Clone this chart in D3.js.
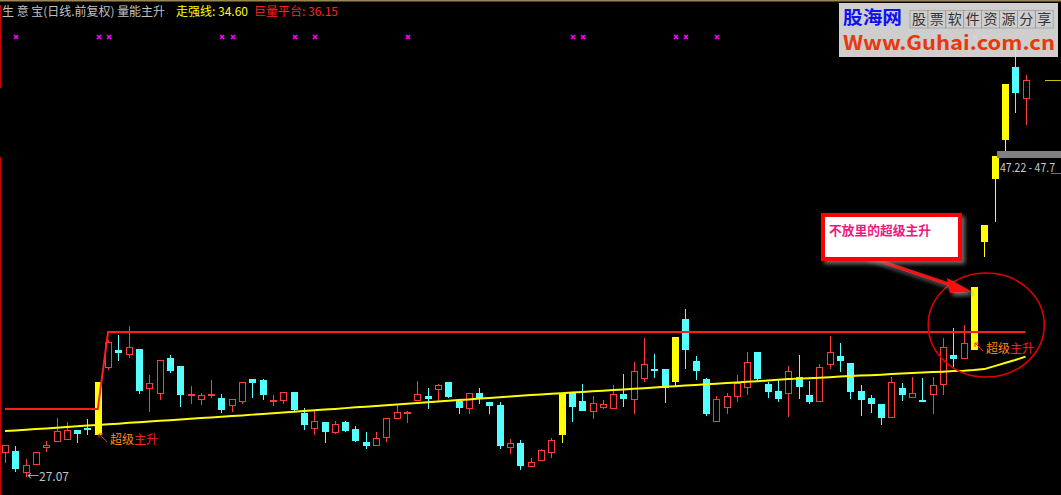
<!DOCTYPE html>
<html><head><meta charset="utf-8">
<script src="https://cdn.jsdelivr.net/npm/d3@7"></script>
<style>
html,body{margin:0;padding:0;background:#000;overflow:hidden}
svg{display:block}
text{font-family:"Noto Sans CJK SC","Noto Sans",sans-serif}
</style></head><body>
<svg id="c" width="1061" height="495"></svg>
<script>
// ---- data (price units) ----
const opens = [28.58,28.64,27.32,27.82,28.89,29.27,29.40,29.97,30.09,29.71,
33.94,35.01,34.76,35.08,32.62,32.30,34.51,34.00,32.17,31.92,
32.17,31.99,31.54,31.80,33.18,33.12,31.80,31.86,32.36,31.04,
30.09,30.47,29.84,30.47,30.03,29.21,29.02,29.52,30.72,31.04,
31.86,32.11,32.55,33.00,31.80,31.35,32.30,31.73,31.54,28.89,
29.15,27.69,28.07,28.58,29.71,32.30,31.80,31.17,31.42,31.35,
32.24,31.92,33.25,33.81,33.81,33.06,36.97,34.32,33.18,30.53,
31.42,32.11,32.68,34.89,32.87,32.43,32.30,33.31,32.17,31.80,
34.13,34.64,34.19,32.43,31.99,31.61,30.79,32.62,32.05,31.86,
32.24,32.87,34.70,34.51,35.08,41.89,45.87,48.33,52.87,50.92];
const highs = [29.02,28.96,28.14,28.58,29.27,30.72,30.47,29.97,30.66,33.00,
35.65,35.96,36.53,35.08,33.44,34.38,34.70,34.00,32.74,32.30,
33.12,32.24,31.92,33.00,33.18,33.18,32.17,32.36,32.36,31.35,
31.23,30.47,30.53,30.53,30.22,29.84,29.84,30.72,31.61,31.17,
33.06,32.62,32.87,33.00,31.80,32.30,32.62,31.73,31.73,29.40,
29.34,28.20,28.77,29.46,32.30,32.30,32.87,32.11,31.86,32.81,
33.50,34.26,35.77,34.76,33.81,35.83,37.60,34.64,33.25,32.11,
32.30,33.44,34.89,34.89,33.00,33.12,34.00,34.70,33.06,34.13,
35.90,35.46,34.19,32.81,32.17,31.61,33.31,32.93,33.31,33.25,
33.31,35.77,36.40,36.59,38.99,42.90,47.22,51.80,54.58,52.37];
const lows = [27.95,27.38,27.07,27.82,28.64,29.27,29.40,29.21,29.71,29.71,
33.81,34.38,34.57,32.30,31.17,31.92,33.63,31.48,31.67,31.61,
32.05,31.10,31.17,31.67,32.05,31.92,31.54,31.67,31.23,30.03,
29.71,29.21,29.78,29.90,29.27,28.83,29.02,29.27,30.72,30.47,
31.86,31.35,31.86,32.05,31.04,31.04,31.67,31.04,28.83,28.52,
27.51,27.69,28.07,28.26,29.21,30.53,31.23,30.72,31.35,31.35,
31.48,31.04,33.06,33.31,31.73,32.74,33.88,33.18,30.91,30.53,
31.04,31.80,32.24,33.06,32.05,31.80,30.85,31.99,31.67,31.80,
33.88,33.69,31.99,30.91,31.10,30.34,30.79,31.86,32.05,31.80,
31.04,32.24,34.00,34.51,35.08,40.95,43.15,47.63,50.03,49.28];
const closes = [29.02,27.57,27.76,28.58,29.02,29.90,29.97,29.78,30.03,33.00,
35.52,34.89,35.20,32.49,32.93,34.38,33.75,32.24,32.24,32.17,
32.24,31.29,31.92,33.00,33.00,32.24,31.86,32.36,31.29,30.34,
30.53,29.90,30.34,29.97,29.34,29.02,29.46,30.72,31.10,31.10,
32.24,31.99,32.81,32.11,31.42,32.30,31.99,31.54,29.02,29.15,
27.76,27.95,28.70,29.34,32.30,31.48,31.23,31.67,31.61,32.24,
31.99,33.69,34.13,33.75,32.68,35.83,35.08,33.75,31.04,31.92,
32.11,32.93,34.26,33.25,32.43,31.99,33.69,32.74,31.80,33.94,
34.89,34.38,32.43,31.92,31.67,30.79,33.00,32.24,32.30,31.80,
32.81,35.20,34.51,35.46,38.99,42.90,47.22,51.80,51.29,52.05];
const superRise = [9,54,65,94,95,96,97];          // yellow candles
const strongLine = [29.90,29.94,29.99,30.03,30.07,30.12,30.16,30.20,30.25,30.29,
30.33,30.37,30.42,30.46,30.50,30.55,30.59,30.63,30.68,30.72,
30.76,30.81,30.85,30.89,30.94,30.98,31.03,31.07,31.12,31.17,
31.21,31.26,31.30,31.35,31.40,31.44,31.49,31.53,31.58,31.63,
31.67,31.72,31.76,31.81,31.86,31.90,31.95,31.99,32.04,32.08,
32.13,32.17,32.21,32.25,32.29,32.33,32.37,32.41,32.45,32.49,
32.53,32.57,32.61,32.65,32.69,32.73,32.77,32.81,32.85,32.89,
32.93,32.97,33.01,33.05,33.09,33.14,33.18,33.21,33.24,33.27,
33.30,33.34,33.37,33.40,33.43,33.46,33.50,33.53,33.56,33.59,
33.62,33.65,33.69,33.71,33.75,33.81,34.00,34.19,34.38,34.60];
const platformLine = [31.29,31.29,31.29,31.29,31.29,31.29,31.29,31.29,31.29,31.29]
  .concat(new Array(90).fill(36.15));
const markIdx = [1,9,10,21,22,28,30,39,55,56,65,66,69,94,95];
const labelIdx = [9,94];
const labelPrice = [29.71,35.46];
const header = ["生 意 宝(日线.前复权) 量能主升","走强线: 34.60","巨量平台: 36.15"];
const lowText = "←27.07";
const rangeText = "47.22 - 47.7";
const calloutText = "不放里的超级主升";

// ---- drawing ----
const svg = d3.select("#c");
const N = opens.length;
const x = d3.scaleLinear().domain([0, N-1]).range([5, 1025.5]);
const y = d3.scaleLinear().domain([27.07, 36.15]).range([476, 332]);
const px = i => Math.round(x(i));
const py = v => Math.round(y(v));
const defs = svg.append("defs");

svg.append("rect").attr("width",1061).attr("height",495).attr("fill","#000");
svg.append("rect").attr("x",0).attr("y",0).attr("width",1061).attr("height",1.5).attr("fill","#9a8650");
svg.append("line").attr("x1",0.75).attr("x2",0.75).attr("y1",5).attr("y2",88).attr("stroke","#c80000").attr("stroke-width",1.5);
svg.append("line").attr("x1",0.75).attr("x2",0.75).attr("y1",157).attr("y2",495).attr("stroke","#c80000").attr("stroke-width",1.5);

// header
const hd = svg.append("g").attr("font-size",12);
hd.append("text").attr("x",2).attr("y",16).attr("fill","#c0c0c0").attr("textLength",163).attr("lengthAdjust","spacingAndGlyphs").text(header[0]);
hd.append("text").attr("x",176).attr("y",16).attr("fill","#ffff00").attr("textLength",72).attr("lengthAdjust","spacingAndGlyphs").text(header[1]);
hd.append("text").attr("x",254).attr("y",16).attr("fill","#ff2020").attr("textLength",84).attr("lengthAdjust","spacingAndGlyphs").text(header[2]);

// marks
svg.append("g").selectAll("path").data(markIdx).join("path")
  .attr("d", i => { const cx = Math.round(x(i))+1, cy = 37; return `M${cx-2},${cy-2}L${cx+2},${cy+2}M${cx+2},${cy-2}L${cx-2},${cy+2}`; })
  .attr("stroke","#ff00ff").attr("stroke-width",1.6).attr("fill","none");

// candles
const col = {r:"#ff3c3c", c:"#54ffff", y:"#ffff00"};
const kind = i => superRise.includes(i) ? "y" : (closes[i] >= opens[i] ? "r" : "c");
const cg = svg.append("g").attr("shape-rendering","crispEdges");
d3.range(N).forEach(i => {
  const k = kind(i), cx = px(i), c = col[k];
  const top = py(Math.max(opens[i], closes[i])), bot = py(Math.min(opens[i], closes[i]));
  const hi = py(highs[i]), lo = py(lows[i]);
  if (hi < top) cg.append("line").attr("x1",cx+.5).attr("x2",cx+.5).attr("y1",hi).attr("y2",top).attr("stroke",c);
  if (lo > bot) cg.append("line").attr("x1",cx+.5).attr("x2",cx+.5).attr("y1",bot+1).attr("y2",lo+1).attr("stroke",c);
  if (k === "r") {
    cg.append("path").attr("d",`M${cx-2.5},${top+.5}h6v${bot-top}h-6Z`).attr("fill","none").attr("stroke",c);
  } else {
    cg.append("rect").attr("x",cx-3).attr("y",top).attr("width",7).attr("height",Math.max(1,bot-top+1)).attr("fill",c);
  }
});

// indicator lines
const line = d3.line().x((d,i)=>x(i)).y(d=>y(d));
svg.append("path").attr("d",line(platformLine)).attr("fill","none").attr("stroke","#ff1e1e").attr("stroke-width",2);
svg.append("path").attr("d",line(strongLine)).attr("fill","none").attr("stroke","#ffff00").attr("stroke-width",2);

// labels ↖超级主升 (first two glyphs rendered in mixed yellow/red)
labelIdx.forEach((i,j) => {
  const tx = px(i)+1, ty = py(labelPrice[j]);
  const gid = "lg"+j;
  const gr = defs.append("linearGradient").attr("id",gid).attr("gradientUnits","userSpaceOnUse")
    .attr("x1",tx+11).attr("x2",tx+59).attr("y1",0).attr("y2",0);
  gr.append("stop").attr("offset","0").attr("stop-color","#ff8a10");
  gr.append("stop").attr("offset","0.5").attr("stop-color","#ff8a10");
  gr.append("stop").attr("offset","0.5").attr("stop-color","#ff2020");
  gr.append("stop").attr("offset","1").attr("stop-color","#ff2020");
  svg.append("path").attr("d",`M${tx},${ty}L${tx+8},${ty+8}M${tx},${ty}L${tx},${ty+4}M${tx},${ty}L${tx+4},${ty}`)
    .attr("stroke","#ff2020").attr("stroke-width",1).attr("fill","none");
  svg.append("text").attr("x",tx+11).attr("y",ty+10).attr("font-size",12).attr("fill",`url(#${gid})`).text("超级主升");
});

// low label
svg.append("text").attr("x",px(2)+1).attr("y",py(lows[2])+5).attr("font-size",12).attr("fill","#c0c0c0")
  .attr("textLength",42).attr("lengthAdjust","spacingAndGlyphs").text(lowText);

// range label
const ry = py(closes[96]);
svg.append("rect").attr("x",997).attr("y",ry-5).attr("width",64).attr("height",7).attr("fill","#808080");
svg.append("text").attr("x",1000).attr("y",ry+16).attr("font-size",11.5).attr("fill","#c8c8c8")
  .attr("textLength",55).attr("lengthAdjust","spacingAndGlyphs").text(rangeText);
svg.append("line").attr("x1",1051).attr("x2",1061).attr("y1",ry+17.5).attr("y2",ry+17.5).attr("stroke","#00c000");
// last close tick
svg.append("line").attr("x1",1045).attr("x2",1061).attr("y1",py(closes[N-1])+.5).attr("y2",py(closes[N-1])+.5).attr("stroke","#c8c000");

// ellipse
svg.append("ellipse").attr("cx",x(95)+2).attr("cy",y(36.59)).attr("rx",58).attr("ry",52)
  .attr("fill","none").attr("stroke","#e00000").attr("stroke-width",1.6);

// callout
const f = defs.append("filter").attr("id","sh").attr("x","-20%").attr("y","-20%").attr("width","150%").attr("height","160%");
f.append("feDropShadow").attr("dx",3).attr("dy",3).attr("stdDeviation",2).attr("flood-color","#888").attr("flood-opacity",0.8);
const tipX = px(94)-2, tipY = py(highs[94])+5;
svg.append("line").attr("x1",865).attr("y1",256).attr("x2",tipX-18).attr("y2",tipY-6)
  .attr("stroke","#ff1010").attr("stroke-width",3.2).attr("filter","url(#sh)");
svg.append("path").attr("d",`M${tipX},${tipY}L${tipX-25},${tipY-14}L${tipX-22},${tipY+1}Z`).attr("fill","#ff1010").attr("filter","url(#sh)");
svg.append("rect").attr("x",823).attr("y",215).attr("width",137).attr("height",44)
  .attr("fill","#ffffff").attr("stroke","#ff0000").attr("stroke-width",4).attr("filter","url(#sh)");
svg.append("text").attr("x",829).attr("y",235).attr("font-size",13).attr("font-weight","bold")
  .attr("fill","#f0177f").attr("textLength",102).attr("lengthAdjust","spacingAndGlyphs").text(calloutText);

// logo
const lg = svg.append("g");
lg.append("rect").attr("x",839).attr("y",3).attr("width",219).attr("height",54).attr("fill","#dedede").attr("fill-opacity",0.93);
lg.append("text").attr("x",843).attr("y",24).attr("font-size",18).attr("font-weight","bold").attr("fill","#1010f0")
  .attr("textLength",59).attr("lengthAdjust","spacingAndGlyphs").text("股海网");
const cells = "股票软件资源分享".split("");
lg.selectAll("g.cell").data(cells).join("g").attr("class","cell").each(function(ch,k){
  const gx = 910 + k*17.9;
  d3.select(this).append("rect").attr("x",gx).attr("y",10.5).attr("width",17.9).attr("height",17.5)
    .attr("fill","none").attr("stroke","#9a9a9a").attr("stroke-width",0.7);
  d3.select(this).append("text").attr("x",gx+8.95).attr("y",24).attr("text-anchor","middle")
    .attr("font-size",14).attr("fill","#333").text(ch);
});
lg.append("text").attr("x",843).attr("y",50).attr("font-size",20).attr("font-weight","bold")
  .attr("font-family","'Liberation Sans',Arial,sans-serif").attr("fill","#e8380c")
  .attr("textLength",212).attr("lengthAdjust","spacingAndGlyphs").text("Www.Guhai.com.cn");
</script>
</body></html>
